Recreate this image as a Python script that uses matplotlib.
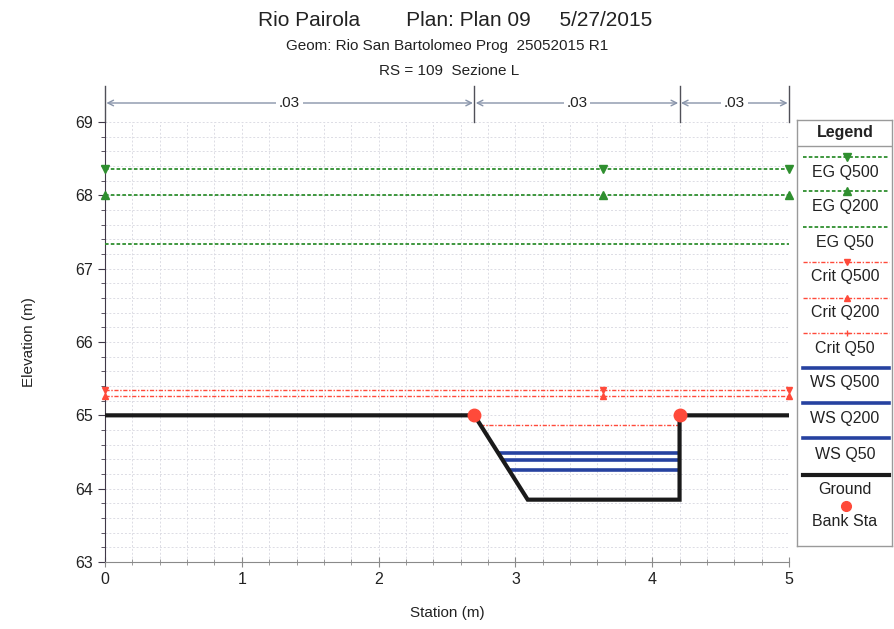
import matplotlib
matplotlib.use("Agg")
import matplotlib.pyplot as plt
import numpy as np
from matplotlib.ticker import MultipleLocator

# ---------------- data ----------------
ground_sta = [0.0, 2.70, 3.09, 4.20, 4.20, 5.0]
ground_elev = [65.0, 65.0, 63.85, 63.85, 65.0, 65.0]
bank_sta = [2.70, 4.20]
bank_elev = [65.0, 65.0]

line_sta = [0.0, 3.64, 5.0]
eg_q500 = [68.36, 68.36, 68.36]
eg_q200 = [68.00, 68.00, 68.00]
eg_q50 = [67.33, 67.33, 67.33]
crit_q500 = [65.34, 65.34, 65.34]
crit_q200 = [65.27, 65.27, 65.27]
crit_q50 = 64.87
ws_q500 = 64.48
ws_q200 = 64.39
ws_q50 = 64.26

n_sta = [0.0, 2.70, 4.20, 5.0]
n_vals = [".03", ".03", ".03"]

legend_labels = ["EG Q500", "EG Q200", "EG Q50", "Crit Q500", "Crit Q200",
                 "Crit Q50", "WS Q500", "WS Q200", "WS Q50", "Ground", "Bank Sta"]

title1 = "Rio Pairola        Plan: Plan 09     5/27/2015"
title2 = "Geom: Rio San Bartolomeo Prog  25052015 R1"
title3 = "RS = 109  Sezione L"

# ---------------- styles ----------------
GREEN = "#2f8f2f"
RED = "#ff4a3a"
BLUE = "#2642a0"
BLACK = "#1a1a1a"
eg_ls = (0, (2.0, 1.2))
crit_ls = (0, (3.0, 1.2, 1.0, 1.2))

plt.rcParams['font.family'] = ['Liberation Sans', 'DejaVu Sans']

fig = plt.figure(figsize=(8.95, 6.29), dpi=100)
ax = fig.add_axes([105/895, 1-562/629, (789-105)/895, (562-122)/629])
ax.set_xlim(0, 5)
ax.set_ylim(63, 69)

ax.xaxis.set_major_locator(MultipleLocator(1))
ax.xaxis.set_minor_locator(MultipleLocator(0.2))
ax.yaxis.set_major_locator(MultipleLocator(1))
ax.yaxis.set_minor_locator(MultipleLocator(0.2))
ax.grid(True, which='both', color='#dcdce4', linestyle=(0, (2, 2)), linewidth=0.7)
ax.set_axisbelow(True)
for s in ['top', 'right']:
    ax.spines[s].set_visible(False)
ax.spines['left'].set_color('#403848')
ax.spines['bottom'].set_color('#8a8a8a')
ax.tick_params(axis='y', which='major', direction='out', length=5, labelsize=11.5, colors='#403848', labelcolor='#222222')
ax.tick_params(axis='y', which='minor', direction='out', length=3, colors='#403848')
ax.tick_params(axis='x', which='major', direction='inout', length=7, labelsize=11.5, colors='#8a8a8a', labelcolor='#222222')
ax.tick_params(axis='x', which='minor', direction='inout', length=4, colors='#8a8a8a')
ax.set_xlabel("Station (m)", fontsize=11, labelpad=14, color='#222222')
ax.set_ylabel("Elevation (m)", fontsize=11, labelpad=28, color='#222222')

# ground
ax.plot(ground_sta, ground_elev, color=BLACK, lw=3, zorder=5, solid_joinstyle='miter')

# WS lines from left slope intersection to right bank
slope_elev = ground_elev[1:3][::-1]
slope_sta = ground_sta[1:3][::-1]
for ws in [ws_q500, ws_q200, ws_q50]:
    x0 = np.interp(ws, slope_elev, slope_sta)
    ax.plot([x0, ground_sta[3]], [ws, ws], color=BLUE, lw=2.6, zorder=4, solid_capstyle='butt')

# Crit Q50 within channel
x0 = np.interp(crit_q50, slope_elev, slope_sta)
ax.plot([x0, ground_sta[3]], [crit_q50, crit_q50], color=RED, lw=1.0, ls=crit_ls, zorder=3)

# EG and crit lines
ax.plot(line_sta, eg_q500, color=GREEN, lw=1.3, ls=eg_ls, marker='v', ms=6, zorder=3, clip_on=False)
ax.plot(line_sta, eg_q200, color=GREEN, lw=1.3, ls=eg_ls, marker='^', ms=6, zorder=3, clip_on=False)
ax.plot(line_sta, eg_q50, color=GREEN, lw=1.3, ls=eg_ls, zorder=3)
ax.plot(line_sta, crit_q500, color=RED, lw=1.0, ls=crit_ls, marker='v', ms=5, zorder=3, clip_on=False)
ax.plot(line_sta, crit_q200, color=RED, lw=1.0, ls=crit_ls, marker='^', ms=5, zorder=3, clip_on=False)

# bank stations
ax.plot(bank_sta, bank_elev, ls='none', marker='o', ms=9, color=RED, zorder=6, clip_on=False)

# n-value dimension lines on top
y_arrow = 69 + (122-103)/73.33
y_top = 69 + (122-86)/73.33
for s in n_sta:
    ax.plot([s, s], [69.0, y_top], color='#505058', lw=1.0, clip_on=False)
for i, v in enumerate(n_vals):
    a, b = n_sta[i], n_sta[i+1]
    ax.annotate('', xy=(b, y_arrow), xytext=(a, y_arrow), xycoords='data',
                arrowprops=dict(arrowstyle='<->', color='#8894aa', lw=1.0,
                                shrinkA=1, shrinkB=1), annotation_clip=False)
    ax.text((a+b)/2, y_arrow, v, ha='center', va='center', fontsize=11, color='#222222',
            bbox=dict(facecolor='white', edgecolor='none', pad=2), clip_on=False)

# titles
narrow = ['Liberation Sans Narrow', 'Liberation Sans', 'DejaVu Sans']
fig.text(455/895, 1-20/629, title1, ha='center', va='center', fontsize=15, family=narrow, color='#222222')
fig.text(447/895, 1-46/629, title2, ha='center', va='center', fontsize=11, family=narrow, color='#222222')
fig.text(449/895, 1-71/629, title3, ha='center', va='center', fontsize=11, family=narrow, color='#222222')

# legend box
lax = fig.add_axes([797/895, 1-546/629, 95/895, (546-120)/629])
lax.set_xlim(797, 892)
lax.set_ylim(546, 120)
lax.set_xticks([]); lax.set_yticks([])
for s in lax.spines.values():
    s.set_color('#9a9a9a'); s.set_linewidth(1.0)
lax.text(845, 132, "Legend", ha='center', va='center', fontsize=11.5, weight='bold', color='#222222')
lax.plot([797, 892], [146, 146], color='#9a9a9a', lw=1.0)

line_y = [157, 191, 227, 262, 298, 333, 368, 403, 438, 475]
text_y = [172, 207, 242, 277, 312, 348, 383, 419, 455, 490, 522]
styles = [
    dict(color=GREEN, lw=1.3, ls=eg_ls, marker='v', ms=6),
    dict(color=GREEN, lw=1.3, ls=eg_ls, marker='^', ms=6),
    dict(color=GREEN, lw=1.3, ls=eg_ls),
    dict(color=RED, lw=1.0, ls=crit_ls, marker='v', ms=5),
    dict(color=RED, lw=1.0, ls=crit_ls, marker='^', ms=5),
    dict(color=RED, lw=1.0, ls=crit_ls, marker='+', ms=5),
    dict(color=BLUE, lw=2.6),
    dict(color=BLUE, lw=2.6),
    dict(color=BLUE, lw=2.6),
    dict(color=BLACK, lw=3),
]
for y, st in zip(line_y, styles):
    lax.plot([803, 847, 889], [y, y, y], markevery=[1], **st)
lax.plot([846], [506], ls='none', marker='o', ms=7, color=RED)
for y, lab in zip(text_y, legend_labels):
    lax.text(845, y, lab, ha='center', va='center', fontsize=11.5, color='#222222')

fig.savefig("out.png", dpi=100)
